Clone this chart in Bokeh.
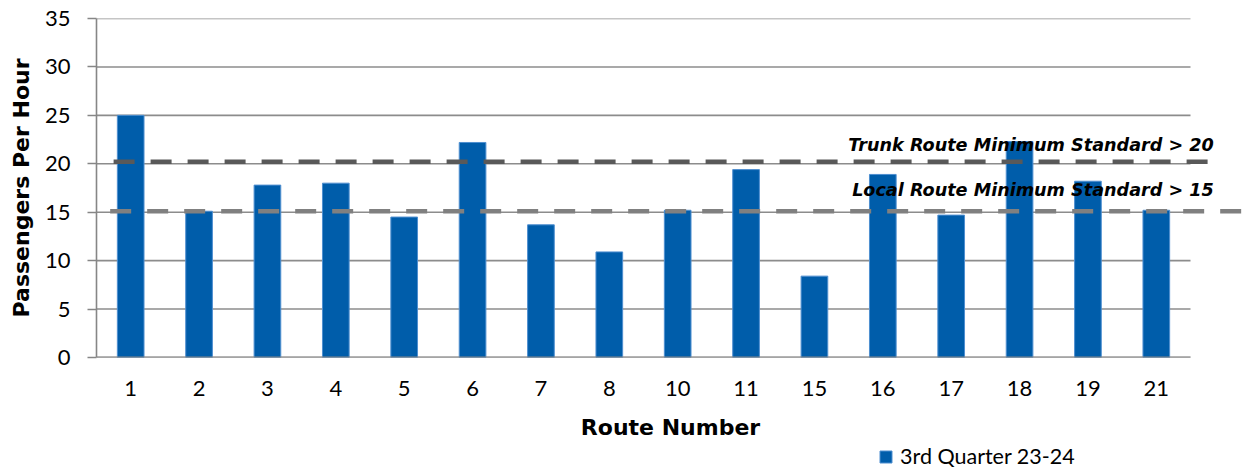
from bokeh.plotting import figure
from bokeh.models import Range1d, FixedTicker, Legend, LegendItem, Label
from bokeh.layouts import column
from bokeh.embed import file_html
from bokeh.resources import INLINE

routes = ["1", "2", "3", "4", "5", "6", "7", "8", "10", "11", "15", "16", "17", "18", "19", "21"]
pph = [25.0, 15.1, 17.8, 18.0, 14.5, 22.2, 13.7, 10.9, 15.2, 19.4, 8.4, 18.9, 14.7, 22.3, 18.2, 15.2]
y_ticks = [0, 5, 10, 15, 20, 25, 30, 35]
trunk_standard = 20.2
local_standard = 15.1
series_name = "3rd Quarter 23-24"
trunk_label = "Trunk Route Minimum Standard > 20"
local_label = "Local Route Minimum Standard > 15"

BAR_FILL = "#005DAA"
BAR_LINE = "#4f8fd0"

idx = list(range(1, len(routes) + 1))
n = len(routes)

p = figure(width=1244, height=443, output_backend="svg", toolbar_location=None,
           x_range=Range1d(0.5, 0.5 + 1148 / 68.375), y_range=Range1d(0, 35),
           min_border_left=96, min_border_right=0, min_border_top=18, min_border_bottom=86)
p.outline_line_color = None
p.xgrid.visible = False
p.ygrid.visible = False

# gridlines limited to the category area
p.segment(x0=[0.5] * len(y_ticks), x1=[n + 0.5] * len(y_ticks), y0=y_ticks, y1=y_ticks,
          line_color="#8c8c8c", line_width=1.6)

bars = p.vbar(x=idx, top=pph, width=0.39, fill_color=BAR_FILL, line_color=BAR_LINE, line_width=1)

p.line(x=[0.75, 16.92], y=[trunk_standard, trunk_standard], line_color="#595959",
       line_width=4.5, line_dash="21 16")
p.line(x=[0.70, 17.6], y=[local_standard, local_standard], line_color="#808080",
       line_width=4.5, line_dash="21 16")

for txt, yv in [(trunk_label, trunk_standard + 1.72), (local_label, local_standard + 2.2)]:
    p.add_layout(Label(x=16.84, y=yv, text=txt, text_align="right", text_baseline="alphabetic",
                       text_font="DejaVu Sans", text_font_style="bold italic",
                       text_font_size="17.6px", text_color="#000000"))

# axes
xa = p.xaxis[0]
xa.ticker = FixedTicker(ticks=idx)
xa.major_label_overrides = {i: r for i, r in zip(idx, routes)}
xa.axis_line_color = None
xa.major_tick_line_color = None
xa.minor_tick_line_color = None
xa.major_label_standoff = 17
xa.major_label_text_font = "Lato"
xa.major_label_text_font_size = "22px"
xa.major_label_text_color = "#000000"
xa.axis_label = "Route Number"
xa.axis_label_text_font = "DejaVu Sans"
xa.axis_label_text_font_style = "bold"
xa.axis_label_text_font_size = "22px"
xa.axis_label_text_color = "#000000"
xa.axis_label_standoff = 16

ya = p.yaxis[0]
ya.ticker = FixedTicker(ticks=y_ticks)
ya.axis_line_color = "#868686"
ya.axis_line_width = 1.6
ya.major_tick_line_color = "#868686"
ya.major_tick_line_width = 1.6
ya.major_tick_in = 0
ya.major_tick_out = 9
ya.minor_tick_line_color = None
ya.major_label_standoff = 17
ya.major_label_text_font = "Lato"
ya.major_label_text_font_size = "22px"
ya.major_label_text_color = "#000000"
ya.axis_label = "Passengers Per Hour"
ya.axis_label_text_font = "DejaVu Sans"
ya.axis_label_text_font_style = "bold"
ya.axis_label_text_font_size = "22px"
ya.axis_label_text_color = "#000000"
ya.axis_label_standoff = 8

# bottom segment for the x axis line
p.segment(x0=[0.5], x1=[n + 0.5], y0=[0], y1=[0], line_color="#868686", line_width=1.8)

# legend strip below the chart
lg = figure(width=1244, height=26, output_backend="svg", toolbar_location=None,
            x_range=Range1d(0, 1), y_range=Range1d(0, 1),
            x_axis_type=None, y_axis_type=None,
            min_border_left=0, min_border_right=0, min_border_top=0, min_border_bottom=0)
lg.outline_line_color = None
lg.xgrid.visible = False
lg.ygrid.visible = False
dummy = lg.vbar(x=[5], top=[1], width=0.1, fill_color=BAR_FILL, line_color=BAR_LINE, line_width=1)
legend = Legend(items=[LegendItem(label=series_name, renderers=[dummy])],
                location=(782, 0), orientation="horizontal",
                border_line_color=None, background_fill_alpha=0,
                padding=0, margin=0, spacing=0,
                glyph_width=15, glyph_height=15, label_standoff=7,
                label_text_font="Lato", label_text_font_size="21.5px",
                label_text_color="#000000", label_height=17)
lg.add_layout(legend, "center")

layout = column(p, lg, spacing=0)
open("out.html", "w").write(file_html(layout, INLINE))
